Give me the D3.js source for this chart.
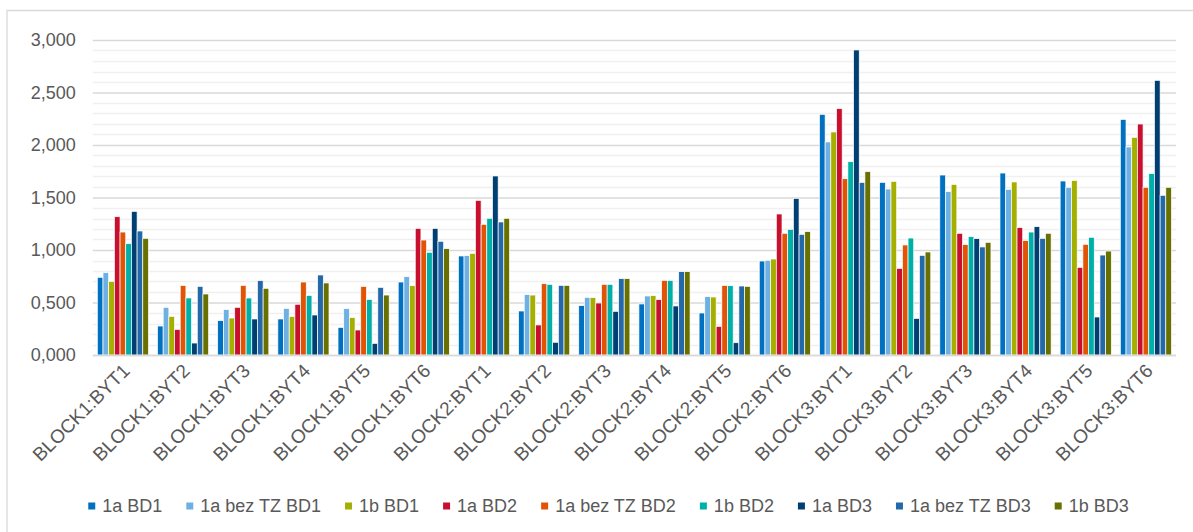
<!DOCTYPE html>
<html><head><meta charset="utf-8">
<script src="https://cdn.jsdelivr.net/npm/d3@7"></script>
<style>
html,body{margin:0;padding:0;background:#fff;}
svg{display:block;font-family:"Liberation Sans",Arial,sans-serif;}
</style></head>
<body>
<svg id="chart" width="1193" height="532"></svg>
<script>
const categories = ["BLOCK1:BYT1","BLOCK1:BYT2","BLOCK1:BYT3","BLOCK1:BYT4","BLOCK1:BYT5","BLOCK1:BYT6",
  "BLOCK2:BYT1","BLOCK2:BYT2","BLOCK2:BYT3","BLOCK2:BYT4","BLOCK2:BYT5","BLOCK2:BYT6",
  "BLOCK3:BYT1","BLOCK3:BYT2","BLOCK3:BYT3","BLOCK3:BYT4","BLOCK3:BYT5","BLOCK3:BYT6"];
const seriesNames = ["1a BD1","1a bez TZ BD1","1b BD1","1a BD2","1a bez TZ BD2","1b BD2","1a BD3","1a bez TZ BD3","1b BD3"];
const seriesColors = ["#0070C0","#6FB0E4","#A5AF00","#C8102E","#E15405","#00B0A8","#003F72","#2368A8","#687000"];
const s1aBD1    = [0.740,0.276,0.327,0.343,0.263,0.695,0.943,0.419,0.470,0.486,0.400,0.895,2.292,1.644,1.714,1.733,1.657,2.244];
const s1aBezBD1 = [0.784,0.454,0.432,0.444,0.441,0.746,0.946,0.575,0.549,0.562,0.556,0.902,2.029,1.581,1.556,1.578,1.597,1.981];
const s1bBD1    = [0.701,0.368,0.352,0.368,0.356,0.660,0.968,0.571,0.546,0.565,0.552,0.914,2.124,1.654,1.625,1.648,1.663,2.073];
const s1aBD2    = [1.317,0.244,0.454,0.483,0.238,1.206,1.473,0.286,0.495,0.527,0.273,1.343,2.346,0.825,1.159,1.213,0.835,2.200];
const s1aBezBD2 = [1.171,0.663,0.663,0.695,0.654,1.095,1.244,0.679,0.673,0.711,0.663,1.159,1.679,1.048,1.051,1.089,1.054,1.597];
const s1bBD2    = [1.060,0.543,0.543,0.568,0.530,0.978,1.302,0.673,0.673,0.711,0.660,1.197,1.841,1.114,1.127,1.171,1.121,1.727];
const s1aBD3    = [1.368,0.114,0.343,0.381,0.111,1.206,1.705,0.121,0.416,0.467,0.117,1.492,2.905,0.349,1.108,1.222,0.362,2.616];
const s1aBezBD3 = [1.181,0.654,0.708,0.762,0.644,1.083,1.267,0.663,0.727,0.794,0.657,1.149,1.644,0.949,1.029,1.111,0.952,1.521];
const s1bBD3    = [1.111,0.581,0.635,0.686,0.571,1.013,1.302,0.663,0.727,0.794,0.654,1.175,1.746,0.981,1.073,1.159,0.990,1.597];
const seriesValues = [s1aBD1,s1aBezBD1,s1bBD1,s1aBD2,s1aBezBD2,s1bBD2,s1aBD3,s1aBezBD3,s1bBD3];
const yMajorTicks = [0,0.5,1,1.5,2,2.5,3];

const svg = d3.select("#chart");
const W = 1193, H = 532;
const plot = {left: 92.8, right: 1176, top: 40, bottom: 355};
const textColor = "#595959";
const fontSize = 18;
const xLabelSize = 19;

// chart frame
svg.append("path")
  .attr("d", `M7,${H+2} V10.5 H${W+2}`)
  .attr("fill","none").attr("stroke","#d9d9d9").attr("stroke-width",1.3);

const y = d3.scaleLinear().domain([0,3]).range([plot.bottom, plot.top]);
const x0 = d3.scaleBand().domain(categories).range([plot.left, plot.right]).paddingInner(0.15).paddingOuter(0.075);
const x1 = d3.scaleBand().domain(d3.range(seriesNames.length)).range([0, x0.bandwidth()]).padding(0);

// minor gridlines
const minor = d3.range(0, 3.0001, 0.1).filter(v => Math.abs(v*2 - Math.round(v*2)) > 1e-6);
svg.append("g").selectAll("line").data(minor).join("line")
  .attr("x1", plot.left).attr("x2", plot.right)
  .attr("y1", d => Math.round(y(d))+0.5).attr("y2", d => Math.round(y(d))+0.5)
  .attr("stroke","#f0f0f0").attr("stroke-width",1.3);

// major gridlines + labels via axis
const fmt = d => d3.format(".3f")(d).replace(".", ",");
const yAxis = d3.axisLeft(y).tickValues(yMajorTicks)
  .tickSize(-(plot.right - plot.left))
  .tickPadding(17)
  .tickFormat(fmt);
const gy = svg.append("g").attr("transform", `translate(${plot.left},0)`).call(yAxis);
gy.select(".domain").remove();
gy.selectAll(".tick line").attr("stroke","#d9d9d9").attr("stroke-width",1.5);
gy.selectAll(".tick text").attr("fill",textColor).attr("font-size",fontSize)
  .attr("font-family","Liberation Sans, Arial, sans-serif");

// bars
const gBars = svg.append("g");
seriesValues.forEach((vals, si) => {
  gBars.append("g").selectAll("rect").data(vals).join("rect")
    .attr("x", (d,i) => x0(categories[i]) + x1(si))
    .attr("width", x1.bandwidth())
    .attr("y", d => y(d))
    .attr("height", d => y(0) - y(d))
    .attr("fill", seriesColors[si])
    .attr("stroke","#ffffff").attr("stroke-width",0.7);
});

// baseline
svg.append("line").attr("x1",plot.left).attr("x2",plot.right)
  .attr("y1",y(0)+0.5).attr("y2",y(0)+0.5).attr("stroke","#d9d9d9").attr("stroke-width",1.5);

// x labels
const xAxis = d3.axisBottom(x0).tickSize(0).tickPadding(0);
const gx = svg.append("g").attr("transform", `translate(0,${plot.bottom})`).call(xAxis);
gx.select(".domain").remove();
gx.selectAll(".tick text")
  .attr("fill",textColor).attr("font-size",xLabelSize)
  .attr("font-family","Liberation Sans, Arial, sans-serif")
  .attr("text-anchor","end")
  .attr("dy",null).attr("y",null)
  .attr("transform","translate(8,17) rotate(-45)");

// legend
const legend = svg.append("g");
const items = legend.selectAll("g").data(seriesNames).join("g");
items.append("rect").attr("width",7).attr("height",7).attr("y",-9.5)
  .attr("fill",(d,i)=>seriesColors[i]);
items.append("text").attr("x",14).attr("y",0).text(d=>d)
  .attr("fill",textColor).attr("font-size",fontSize)
  .attr("font-family","Liberation Sans, Arial, sans-serif");
let cx = 0;
const gap = 24;
items.each(function(){
  const g = d3.select(this);
  const w = 14 + g.select("text").node().getComputedTextLength();
  g.attr("transform", `translate(${cx},0)`);
  cx += w + gap;
});
const totalW = cx - gap;
legend.attr("transform", `translate(${608.5 - totalW/2},${512})`);
</script>
</body></html>
